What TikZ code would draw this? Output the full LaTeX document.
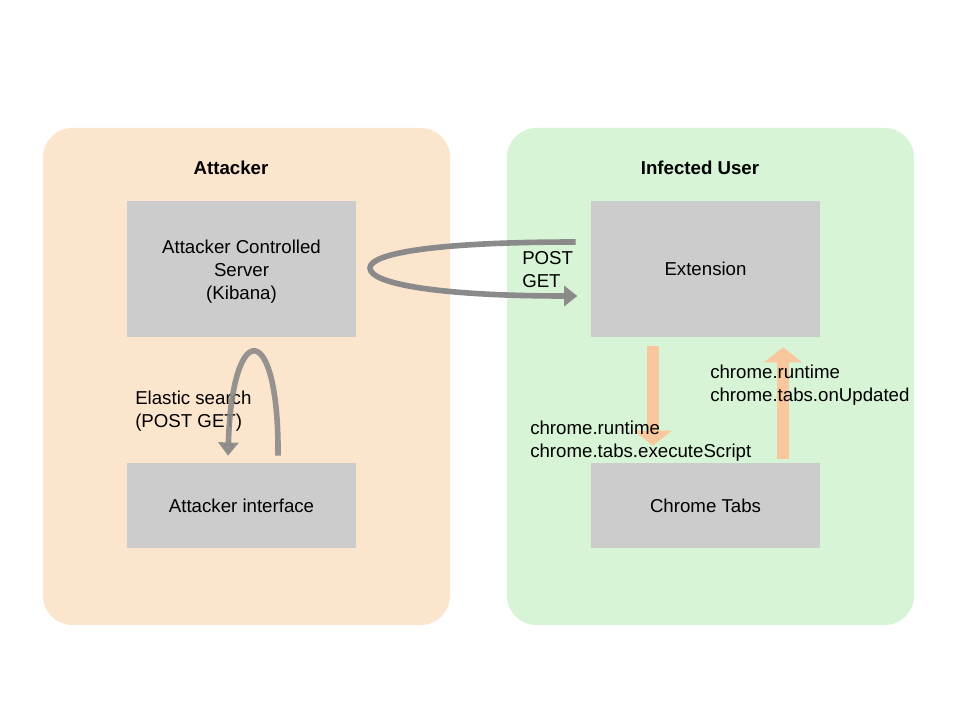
\documentclass[tikz,border=0pt]{standalone}
\usepackage{fontspec}
\setmainfont{Liberation Sans}
\usetikzlibrary{arrows.meta,calc}
\definecolor{attbg}{HTML}{FCE5CD}
\definecolor{infbg}{HTML}{D7F4D6}
\definecolor{boxgray}{HTML}{CCCCCC}
\definecolor{arrgray}{HTML}{8A8A8A}
\definecolor{arrorange}{HTML}{F9C79E}
\begin{document}
\begin{tikzpicture}[x=0.75pt,y=-0.75pt,
  every node/.style={font=\fontsize{14}{17.25}\selectfont},
  panel/.style={fill=#1,rounded corners=22pt,minimum width=305.25pt,minimum height=372.75pt,inner sep=0pt},
  graybox/.style={fill=boxgray,minimum width=171.75pt,inner sep=0pt,align=center},
  title/.style={font=\fontsize{14}{17.25}\selectfont\bfseries},
  lbl/.style={align=left,inner sep=0pt,anchor=north west},
  grayarrow/.style={draw=arrgray,line width=4.2pt,-{Triangle[width=15pt,length=10pt]}},
  orangearrow/.style={draw=arrorange,line width=9pt,-{Triangle[width=27.75pt,length=11.25pt]}}
]
\path[use as bounding box,fill=white] (0,0) rectangle (960,720);
\node[panel=attbg] (attpanel) at (246.5,376.5) {};
\node[panel=infbg] (infpanel) at (710.5,376.5) {};
\node[title] (atttitle) at (231,168) {Attacker};
\node[title] (inftitle) at (700,168) {Infected User};

\node[graybox,minimum height=102pt] (server) at (241.5,269) {};
\node[align=center,inner sep=0pt] (servertxt) at (241.5,271.5) {Attacker Controlled\\Server\\(Kibana)};
\node[graybox,minimum height=63.75pt] (iface) at (241.5,505.5) {Attacker interface};
\node[graybox,minimum height=102pt] (ext) at (705.5,269) {Extension};
\node[graybox,minimum height=63.75pt] (tabs) at (705.5,505.5) {Chrome Tabs};

% orange arrows
\coordinate (dstart) at ([xshift=-39.4pt,yshift=-6.75pt]ext.south);
\coordinate (dend) at ([xshift=-39.4pt,yshift=12.75pt]tabs.north);
\coordinate (ustart) at ([xshift=58.1pt,yshift=3pt]tabs.north);
\coordinate (uend) at ([xshift=58.1pt,yshift=-7.5pt]ext.south);
\draw[orangearrow] (dstart) -- (dend);
\draw[orangearrow] (ustart) -- (uend);

\node[lbl] (lbl1) at (530,421) {chrome.runtime\\chrome.tabs.executeScript};
\node[lbl] (lbl2) at (710,365) {chrome.runtime\\chrome.tabs.onUpdated};
\node[lbl] (lbl3) at (522,251) {POST\\GET};
\node[lbl] (lbl4) at (135,391) {Elastic search\\(POST GET)};

% gray curved arrows
\coordinate (cstart) at ([xshift=-11.25pt,yshift=20.25pt]ext.west);
\coordinate (cend) at ([xshift=-10pt,yshift=-20.25pt]ext.west);
\draw[grayarrow] (cstart) .. controls (430,242) and (370,254) .. (370,268)
  .. controls (370,284) and (440,296) .. (cend);

\coordinate (astart) at ([xshift=27.4pt,yshift=5.25pt]iface.north);
\coordinate (aend) at ([xshift=-10.1pt,yshift=5.25pt]iface.north);
\draw[grayarrow,opacity=0.9] (astart) .. controls (279,318) and (232,318) .. (aend);
\end{tikzpicture}
\end{document}
